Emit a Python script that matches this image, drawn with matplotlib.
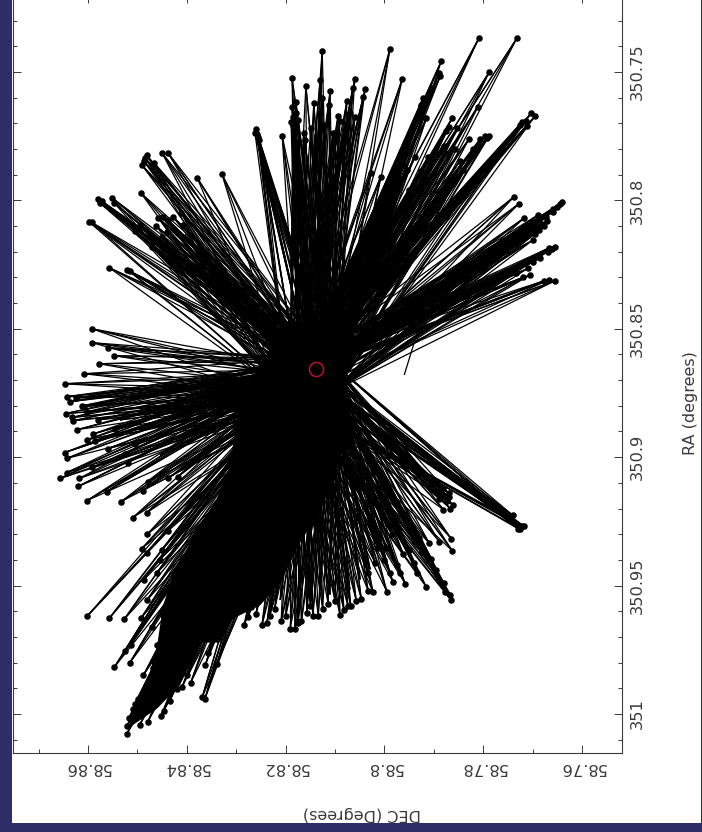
import matplotlib
matplotlib.use("Agg")
import matplotlib.pyplot as plt
from matplotlib.patches import Rectangle
from matplotlib.collections import LineCollection
from matplotlib.ticker import FixedLocator, FixedFormatter, MultipleLocator

W, H = 702, 832

# target position
target_dec = 58.8138
target_ra = 350.8658

# line origins near the target
hub_dec = [58.8138, 58.8175, 58.8110, 58.8155, 58.8100, 58.8191]
hub_ra = [350.8658, 350.8680, 350.8625, 350.8615, 350.8740, 350.8770]

# end points, by region
top_dec = [58.8126, 58.8187, 58.8159, 58.8130, 58.8110, 58.8179, 58.8187, 58.8143, 58.8112, 58.8076,
           58.8185, 58.8185, 58.8207, 58.8260, 58.8262, 58.8094, 58.8179, 58.8183, 58.8177, 58.8163,
           58.8149, 58.8130, 58.8126, 58.8090, 58.8070, 58.8080, 58.8060, 58.8104, 58.8060, 58.8039,
           58.8043, 58.8064, 58.8258, 58.8256, 58.8254, 58.8183, 58.8189, 58.8175, 58.8161, 58.8120]
top_ra = [350.7418, 350.7523, 350.7554, 350.7531, 350.7574, 350.7617, 350.7636, 350.7621, 350.7628, 350.7613,
          350.7675, 350.7706, 350.7749, 350.7722, 350.7737, 350.7671, 350.7660, 350.7737, 350.7776, 350.7737,
          350.7718, 350.7660, 350.7601, 350.7690, 350.7660, 350.7749, 350.7676, 350.7737, 350.7527, 350.7566,
          350.7597, 350.7562, 350.7741, 350.7753, 350.7765, 350.7726, 350.7695, 350.7687, 350.7765, 350.7706]

upleft_dec = [58.8481, 58.8450, 58.8438, 58.8491, 58.8466, 58.8379, 58.8329, 58.8493, 58.8580, 58.8572,
              58.8551, 58.8547, 58.8598, 58.8458, 58.8448, 58.8428, 58.8412, 58.8438, 58.8408, 58.8495,
              58.8440, 58.8450, 58.8470, 58.8557, 58.8521, 58.8484, 58.8487, 58.8576, 58.8592, 58.8515,
              58.8505, 58.8460, 58.8425, 58.8475, 58.8462, 58.8445]
upleft_ra = [350.7823, 350.7815, 350.7815, 350.7862, 350.7854, 350.7912, 350.7897, 350.7971, 350.7994, 350.8002,
             350.7990, 350.8010, 350.8083, 350.8068, 350.8064, 350.8064, 350.8048, 350.8076, 350.8095, 350.8095,
             350.8122, 350.8142, 350.8181, 350.8262, 350.8270, 350.7835, 350.7847, 350.8010, 350.8086, 350.8276,
             350.8120, 350.8160, 350.8110, 350.8135, 350.8100, 350.8170]

left_dec = [58.8592, 58.8592, 58.8560, 58.8547, 58.8578, 58.8608, 58.8647, 58.8643, 58.8636, 58.8608,
            58.8645, 58.8602, 58.8630, 58.8622, 58.8647, 58.8643, 58.8602, 58.8586, 58.8560, 58.8525,
            58.8519, 58.8643, 58.8657, 58.8618, 58.8592, 58.8620, 58.8562, 58.8602, 58.8533, 58.8489,
            58.8479, 58.8438, 58.8418, 58.8625, 58.8612, 58.8632, 58.8580, 58.8545, 58.8590, 58.8505]
left_ra = [350.8500, 350.8554, 350.8574, 350.8605, 350.8636, 350.8675, 350.8714, 350.8764, 350.8784, 350.8803,
           350.8830, 350.8823, 350.8858, 350.8893, 350.8982, 350.9005, 350.8932, 350.8936, 350.8967, 350.8986,
           350.9021, 350.9060, 350.9083, 350.9083, 350.9040, 350.9114, 350.9134, 350.9169, 350.9173, 350.9130,
           350.9095, 350.9083, 350.9076, 350.8770, 350.8800, 350.8845, 350.8855, 350.8890, 350.8910, 350.8950]

lowleft_dec = [58.8509, 58.8481, 58.8491, 58.8481, 58.8450, 58.8438, 58.8460, 58.8487, 58.8481, 58.8602,
               58.8557, 58.8527, 58.8493, 58.8430, 58.8460, 58.8513, 58.8525, 58.8547, 58.8515, 58.8468,
               58.8445, 58.8470, 58.8430, 58.8455, 58.8480]
lowleft_ra = [350.9235, 350.9216, 350.9356, 350.9372, 350.9360, 350.9286, 350.9450, 350.9477, 350.9558, 350.9620,
              350.9628, 350.9632, 350.9628, 350.9585, 350.9730, 350.9730, 350.9753, 350.9819, 350.9800, 350.9792,
              350.9600, 350.9660, 350.9500, 350.9400, 350.9300]

tip_dec = [58.8521, 58.8521, 58.8517, 58.8509, 58.8499, 58.8495, 58.8479, 58.8452, 58.8446, 58.8434,
           58.8420, 58.8410, 58.8392, 58.8369, 58.8363, 58.8363, 58.8339, 58.8357, 58.8483, 58.8474,
           58.8454, 58.8448, 58.8469, 58.8440, 58.8400, 58.8380, 58.8345, 58.8325, 58.8505, 58.8488]
tip_ra = [351.0077, 351.0046, 351.0015, 350.9979, 350.9940, 351.0042, 351.0031, 351.0007, 350.9987, 350.9948,
          350.9901, 350.9897, 350.9878, 350.9936, 350.9940, 350.9811, 350.9804, 350.9761, 350.9917, 350.9878,
          350.9734, 350.9613, 350.9820, 350.9760, 350.9850, 350.9700, 350.9700, 350.9640, 350.9960, 350.9850]

bottom_dec = [58.8284, 58.8276, 58.8248, 58.8238, 58.8232, 58.8209, 58.8191, 58.8181, 58.8175, 58.8157,
              58.8145, 58.8134, 58.8114, 58.8090, 58.8074, 58.8068, 58.8047, 58.8033, 58.8023, 58.8033,
              58.8260, 58.8222, 58.8200, 58.8168, 58.8125, 58.8100, 58.8082, 58.8057, 58.8270, 58.8150]
bottom_ra = [350.9655, 350.9624, 350.9655, 350.9647, 350.9617, 350.9640, 350.9671, 350.9671, 350.9647, 350.9605,
             350.9617, 350.9617, 350.9570, 350.9613, 350.9578, 350.9581, 350.9551, 350.9520, 350.9527, 350.9450,
             350.9610, 350.9590, 350.9620, 350.9640, 350.9590, 350.9560, 350.9595, 350.9560, 350.9585, 350.9580]

lowright_dec = [58.7995, 58.8019, 58.8013, 58.8013, 58.7997, 58.7989, 58.7983, 58.7968, 58.7958, 58.7962,
                58.7940, 58.7934, 58.7916, 58.7930, 58.7910, 58.7889, 58.7865, 58.7863, 58.7877, 58.7867,
                58.7865, 58.8000, 58.7975, 58.7950, 58.7925, 58.7895, 58.7880, 58.7985, 58.7945, 58.7905]
lowright_ra = [350.9524, 350.9411, 350.9352, 350.9317, 350.9352, 350.9450, 350.9485, 350.9450, 350.9493, 350.9376,
               350.9411, 350.9450, 350.9504, 350.9313, 350.9333, 350.9329, 350.9317, 350.9364, 350.9524, 350.9535,
               350.9558, 350.9400, 350.9420, 350.9360, 350.9370, 350.9440, 350.9490, 350.9300, 350.9280, 350.9395]

clump_dec = [58.7730, 58.7717, 58.7738, 58.7750, 58.7740, 58.7725, 58.7745, 58.7733, 58.7722, 58.7755,
             58.7867, 58.7881, 58.7869, 58.7881, 58.7900, 58.7889, 58.7874, 58.7862, 58.7892, 58.7905, 58.7870]
clump_ra = [350.9278, 350.9270, 350.9255, 350.9235, 350.9227, 350.9280, 350.9245, 350.9262, 350.9268, 350.9225,
            350.9200, 350.9204, 350.9157, 350.9122, 350.9103, 350.9161, 350.9170, 350.9185, 350.9130, 350.9090, 350.9140]

upright_dec = [58.7809, 58.7732, 58.7989, 58.7964, 58.7885, 58.7887, 58.7889, 58.7788, 58.7922, 58.7926,
               58.7811, 58.7863, 58.7869, 58.7853, 58.7875, 58.7703, 58.7695, 58.7711, 58.7725, 58.7796,
               58.7788, 58.7829, 58.7792, 58.7912, 58.7847, 58.7962, 58.7926, 58.7900, 58.8027, 58.7950,
               58.7831, 58.7971, 58.7980, 58.7955, 58.7968, 58.7985, 58.7930, 58.7905, 58.7858, 58.7878,
               58.7806, 58.7820, 58.7713, 58.7722, 58.7842, 58.7995, 58.8008, 58.7938, 58.7880, 58.7915]
upright_ra = [350.7368, 350.7368, 350.7411, 350.7527, 350.7457, 350.7516, 350.7504, 350.7500, 350.7601, 350.7628,
              350.7636, 350.7679, 350.7714, 350.7718, 350.7730, 350.7660, 350.7671, 350.7710, 350.7706, 350.7749,
              350.7749, 350.7761, 350.7755, 350.7831, 350.7846, 350.7862, 350.7885, 350.7893, 350.7893, 350.7959,
              350.7940, 350.7875, 350.7900, 350.7880, 350.7920, 350.7950, 350.7905, 350.7860, 350.7800, 350.7815,
              350.7760, 350.7800, 350.7690, 350.7695, 350.7880, 350.7980, 350.7910, 350.7830, 350.7790, 350.7680]

right_dec = [58.7738, 58.7728, 58.7717, 58.7640, 58.7651, 58.7659, 58.7673, 58.7689, 58.7677, 58.7689,
             58.7655, 58.7667, 58.7705, 58.7734, 58.7655, 58.7667, 58.7677, 58.7682, 58.7695, 58.7700,
             58.7670, 58.7662, 58.7685, 58.7710, 58.7645, 58.7660, 58.7672, 58.7688, 58.7700, 58.7720]
right_ra = [350.7986, 350.8013, 350.8068, 350.8006, 350.8025, 350.8033, 350.8064, 350.8056, 350.8099, 350.8103,
            350.8181, 350.8185, 350.8290, 350.8282, 350.8313, 350.8309, 350.8313, 350.8090, 350.8130, 350.8155,
            350.8200, 350.8190, 350.8225, 350.8265, 350.8015, 350.8045, 350.8080, 350.8115, 350.8240, 350.8300]

# points inside the dense bundles, where no dot shows
mid_dec = [58.8181, 58.8140, 58.8100, 58.8080, 58.8252, 58.8246, 58.8240,
           58.7962, 58.7968, 58.7974, 58.7983, 58.7989, 58.7997, 58.8003, 58.7979, 58.7964, 58.8009, 58.7972,
           58.7685, 58.7715, 58.7746, 58.7776, 58.7806, 58.7837,
           58.7705, 58.7736, 58.7766, 58.7796, 58.7827, 58.7857,
           58.7746, 58.7776, 58.7806, 58.7817, 58.7847, 58.7877, 58.7904, 58.7944,
           58.8404, 58.8383, 58.8363,
           58.8171, 58.8151, 58.8130, 58.8110, 58.8090, 58.8070, 58.8049, 58.8029, 58.8211, 58.8242,
           58.8474, 58.8434, 58.8495, 58.8424, 58.8454, 58.8414, 58.8474, 58.8515, 58.8394, 58.8535]
mid_ra = [350.7804, 350.7745, 350.7726, 350.7706, 350.7804, 350.7862, 350.7920,
          350.7862, 350.7889, 350.7920, 350.7959, 350.7986, 350.8018, 350.8045, 350.7998, 350.7912, 350.8076, 350.7979,
          350.8212, 350.8244, 350.8275, 350.8306, 350.8337, 350.8368,
          350.8127, 350.8158, 350.8189, 350.8220, 350.8251, 350.8282,
          350.7765, 350.7823, 350.7881, 350.7823, 350.7912, 350.7998, 350.7551, 350.7749,
          350.8134, 350.8193, 350.8239,
          350.9515, 350.9535, 350.9515, 350.9535, 350.9515, 350.9515, 350.9476, 350.9437, 350.9556, 350.9556,
          350.8816, 350.8855, 350.8893, 350.8932, 350.8991, 350.9049, 350.8757, 350.8776, 350.8757, 350.8855]

# dense core outline
core_dec = [58.8313, 58.8347, 58.8379, 58.8428, 58.8448, 58.8460, 58.8481, 58.8509, 58.8519, 58.8460,
            58.8414, 58.8373, 58.8333, 58.8306, 58.8252, 58.8211, 58.8171, 58.8136, 58.8104, 58.8084,
            58.8070, 58.8081, 58.8130, 58.8191, 58.8232, 58.8292]
core_ra = [350.9033, 350.9200, 350.9278, 350.9461, 350.9578, 350.9734, 350.9888, 350.9993, 351.0056, 350.9979,
           350.9888, 350.9722, 350.9722, 350.9628, 350.9578, 350.9489, 350.9333, 350.9227, 350.9099, 350.8943,
           350.8838, 350.8581, 350.8523, 350.8523, 350.8581, 350.8776]

# a line with no dot at either end
loose_dec = [58.7960, 58.7932]
loose_ra = [350.8680, 350.8505]

dec_ticks = [58.86, 58.84, 58.82, 58.80, 58.78, 58.76]
dec_labels = ["58.86", "58.84", "58.82", "58.8", "58.78", "58.76"]
ra_ticks = [350.75, 350.80, 350.85, 350.90, 350.95, 351.0]
ra_labels = ["350.75", "350.8", "350.85", "350.9", "350.95", "351"]

NAVY = "#2e2d68"
INK = "#3a3a3a"

fig = plt.figure(figsize=(W / 100, H / 100), dpi=100, facecolor=NAVY)
fig.add_artist(Rectangle((11.7 / W, 1 - 823 / H), (701 - 11.7) / W, 823 / H,
                         transform=fig.transFigure, fc="white", ec="none", zorder=-5))

ax = fig.add_axes([13.3 / W, 1 - 752.7 / H, (621.7 - 13.3) / W, 757.7 / H], facecolor="white")
ax.set_xlim(58.8751, 58.7520)
ax.set_ylim(351.0151, 350.7200)

end_dec = top_dec + upleft_dec + left_dec + lowleft_dec + tip_dec + bottom_dec + lowright_dec + clump_dec + upright_dec + right_dec
end_ra = top_ra + upleft_ra + left_ra + lowleft_ra + tip_ra + bottom_ra + lowright_ra + clump_ra + upright_ra + right_ra

segs = []
n = len(hub_dec)
for i, (d, r) in enumerate(zip(end_dec + mid_dec, end_ra + mid_ra)):
    for k in range(4):
        j = (i + k) % n
        segs.append([(d, r), (hub_dec[j], hub_ra[j])])
segs.append([(loose_dec[0], loose_ra[0]), (loose_dec[1], loose_ra[1])])
ax.add_collection(LineCollection(segs, colors="black", linewidths=0.9, zorder=2))
ax.fill(core_dec, core_ra, color="black", lw=0, zorder=3)
ax.plot(end_dec, end_ra, ls="none", marker="o", ms=4.7, mfc="black", mec="black", mew=0, zorder=4)
ax.plot([target_dec], [target_ra], ls="none", marker="o", ms=10.2, mfc="none", mec="#b5122c", mew=1.1, zorder=6)

ax.xaxis.set_major_locator(FixedLocator(dec_ticks))
ax.xaxis.set_major_formatter(FixedFormatter(dec_labels))
ax.xaxis.set_minor_locator(MultipleLocator(0.01))
ax.yaxis.set_major_locator(FixedLocator(ra_ticks))
ax.yaxis.set_major_formatter(FixedFormatter(ra_labels))
ax.yaxis.set_minor_locator(MultipleLocator(0.01))
ax.yaxis.tick_right()
ax.tick_params(which="both", direction="in", top=True, bottom=True, left=True, right=True, color=INK, width=0.7)
ax.tick_params(which="major", length=5.8)
ax.tick_params(which="minor", length=2.9)
ax.tick_params(axis="x", which="major", labelsize=11.7, labelcolor=INK, labelrotation=180, pad=5.5)
ax.tick_params(axis="y", which="major", labelsize=11.7, labelcolor=INK, labelrotation=90, pad=6)
for lab in ax.get_yticklabels():
    lab.set_va("center")
for s in ax.spines.values():
    s.set_color(INK)
    s.set_linewidth(0.8)

fig.text(362 / W, 1 - 813 / H, "DEC (Degrees)", rotation=180, ha="center", va="center", fontsize=11.5, color=INK)
fig.text(690 / W, 1 - 403 / H, "RA (degrees)", rotation=90, ha="center", va="center", fontsize=11.5, color=INK)

fig.savefig("out.png", dpi=100, facecolor=NAVY)
